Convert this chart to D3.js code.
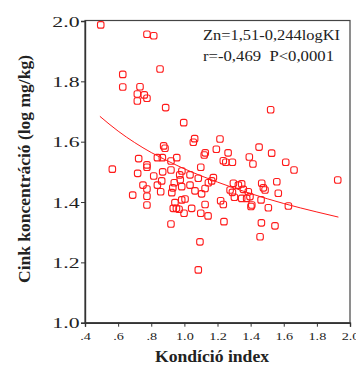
<!DOCTYPE html>
<html lang="hu">
<head>
  <meta charset="UTF-8">
  <title>Cink koncentráció vs Kondíció index</title>
  <style>
    html, body { margin: 0; padding: 0; background: #fff; }
    svg { display: block; }
    text { font-family: "Liberation Serif", "DejaVu Serif", serif; fill: #222; }
  </style>
</head>
<body>
  <svg id="svg" width="356" height="365"></svg>

  <script src="https://cdn.jsdelivr.net/npm/d3@7"></script>
  <script>
    // measured points: kondíció index / log zinc concentration
    const kondicio = [
      0.495, 0.774, 0.815, 0.853, 0.628, 0.628, 0.732, 0.716, 0.758, 0.774,
      0.716, 0.887, 0.996, 0.875, 0.883, 0.724, 0.837, 0.867, 0.774, 0.774,
      0.954, 0.919, 0.565, 0.718, 0.869, 0.919, 0.815, 0.972, 0.863, 0.975,
      0.750, 0.837, 0.939, 0.774, 0.857, 0.930, 0.924, 0.688, 0.774, 0.943,
      0.774, 0.933, 0.952, 0.968, 0.984, 0.998, 0.919, 1.521, 1.062, 1.054,
      1.215, 1.193, 1.126, 1.120, 1.264, 1.451, 1.527, 1.392, 1.414, 1.235,
      1.250, 1.290, 1.099, 0.985, 1.034, 1.084, 1.175, 1.165, 1.034, 1.145,
      0.984, 1.064, 1.104, 1.125, 1.296, 1.326, 1.346, 1.276, 1.290, 1.302,
      1.356, 1.386, 1.346, 1.376, 1.396, 1.467, 1.477, 1.487, 1.558, 1.463,
      1.004, 1.219, 1.235, 1.125, 1.407, 1.044, 1.507, 1.099, 1.143, 1.239,
      1.465, 1.547, 1.457, 1.094, 1.084, 1.402, 1.612, 1.662, 1.926, 1.567,
      1.628
    ]
    const cink = [
      1.987, 1.956, 1.951, 1.841, 1.823, 1.781, 1.782, 1.758, 1.755, 1.744,
      1.735, 1.713, 1.663, 1.586, 1.578, 1.544, 1.547, 1.547, 1.523, 1.515,
      1.547, 1.536, 1.509, 1.495, 1.500, 1.506, 1.486, 1.490, 1.470, 1.474,
      1.456, 1.456, 1.464, 1.443, 1.434, 1.447, 1.431, 1.423, 1.419, 1.398,
      1.390, 1.379, 1.379, 1.376, 1.407, 1.363, 1.327, 1.706, 1.610, 1.598,
      1.609, 1.575, 1.563, 1.556, 1.563, 1.582, 1.562, 1.549, 1.526, 1.537,
      1.532, 1.532, 1.515, 1.503, 1.490, 1.479, 1.481, 1.470, 1.456, 1.464,
      1.451, 1.437, 1.427, 1.445, 1.462, 1.456, 1.460, 1.440, 1.432, 1.416,
      1.442, 1.434, 1.412, 1.412, 1.418, 1.462, 1.447, 1.440, 1.467, 1.407,
      1.410, 1.404, 1.392, 1.392, 1.390, 1.379, 1.381, 1.363, 1.354, 1.335,
      1.331, 1.321, 1.285, 1.268, 1.175, 1.385, 1.532, 1.506, 1.473, 1.429,
      1.387
    ]

    // fitted curve
    const fitX = [0.49, 0.6, 0.7, 0.8, 0.9, 1.0, 1.1, 1.2, 1.4, 1.6, 1.8, 1.93]
    const fitY = [1.684, 1.635, 1.597, 1.564, 1.536, 1.510, 1.487, 1.466, 1.428, 1.395, 1.367, 1.350]

    const xTicks = [0.4, 0.6, 0.8, 1.0, 1.2, 1.4, 1.6, 1.8, 2.0]
    const yTicks = [1.0, 1.2, 1.4, 1.6, 1.8, 2.0]
    const annotation = ['Zn=1,51-0,244logKI', 'r=-0,469  P<0,0001']

    const plotL = 85, plotR = 350, plotT = 21, plotB = 322.7
    const red = '#ff1a1a'

    const x = d3.scaleLinear().domain([0.4, 2.0]).range([plotL, plotR])
    const y = d3.scaleLinear().domain([1.0, 2.0]).range([plotB, plotT])

    const svg = d3.select('#svg')

    // frame
    svg.append('rect')
      .attr('x', plotL).attr('y', plotT - 0.5)
      .attr('width', plotR - plotL).attr('height', plotB - plotT + 0.5)
      .attr('fill', 'none')
      .attr('stroke', '#444')
      .attr('stroke-width', 1.2)

    // x axis
    const xAxis = svg.append('g')
      .attr('transform', `translate(0,${plotB})`)
      .call(d3.axisBottom(x).tickValues(xTicks).tickSize(4)
        .tickFormat(d => d < 1 ? d3.format('.1f')(d).replace(/^0/, '') : d3.format('.1f')(d)))
    xAxis.select('.domain').attr('stroke', '#333').attr('stroke-width', 1.4)
    xAxis.selectAll('line').attr('stroke', '#333')
    xAxis.selectAll('text')
      .attr('y', 0).attr('dy', 0)
      .attr('transform', 'translate(0,17.5) scale(1.29,1)')
      .style('font-size', '11px')
      .style('fill', '#222')

    // y axis
    const yAxis = svg.append('g')
      .attr('transform', `translate(${plotL},0)`)
      .call(d3.axisLeft(y).tickValues(yTicks).tickSize(4).tickFormat(d3.format('.1f')))
    yAxis.select('.domain').attr('stroke', '#333').attr('stroke-width', 1.4)
    yAxis.selectAll('line').attr('stroke', '#333')
    yAxis.selectAll('text')
      .attr('x', 0).attr('dy', '0.34em')
      .attr('transform', 'translate(-5.5,0) scale(1.45,1)')
      .style('font-size', '15px')
      .style('fill', '#222')

    // axis titles
    svg.append('text')
      .attr('x', 155).attr('y', 362)
      .attr('textLength', 114).attr('lengthAdjust', 'spacingAndGlyphs')
      .style('font-size', '16px').style('font-weight', 'bold')
      .text('Kondíció index')

    svg.append('text')
      .attr('transform', 'translate(30,283) rotate(-90)')
      .attr('textLength', 228).attr('lengthAdjust', 'spacingAndGlyphs')
      .style('font-size', '16px').style('font-weight', 'bold')
      .text('Cink koncentráció (log mg/kg)')

    // regression curve
    const line = d3.line()
      .x(d => x(d[0]))
      .y(d => y(d[1]))
      .curve(d3.curveMonotoneX)

    svg.append('path')
      .datum(fitX.map((v, i) => [v, fitY[i]]))
      .attr('d', line)
      .attr('fill', 'none')
      .attr('stroke', red)
      .attr('stroke-width', 1)

    // points
    const s = 6.5
    svg.append('g')
      .selectAll('rect')
      .data(kondicio.map((v, i) => [v, cink[i]]))
      .enter()
      .append('rect')
      .attr('x', d => x(d[0]) - s / 2)
      .attr('y', d => y(d[1]) - s / 2)
      .attr('width', s).attr('height', s)
      .attr('rx', 2).attr('ry', 2)
      .attr('fill', 'none')
      .attr('stroke', red)
      .attr('stroke-width', 1.1)

    // annotation
    svg.append('g')
      .selectAll('text')
      .data(annotation)
      .enter()
      .append('text')
      .attr('x', 203)
      .attr('y', (d, i) => 40 + i * 21)
      .attr('textLength', (d, i) => i === 0 ? 137 : 131)
      .attr('lengthAdjust', 'spacingAndGlyphs')
      .style('font-size', '14px')
      .style('white-space', 'pre')
      .text(d => d)
  </script>
</body>
</html>
